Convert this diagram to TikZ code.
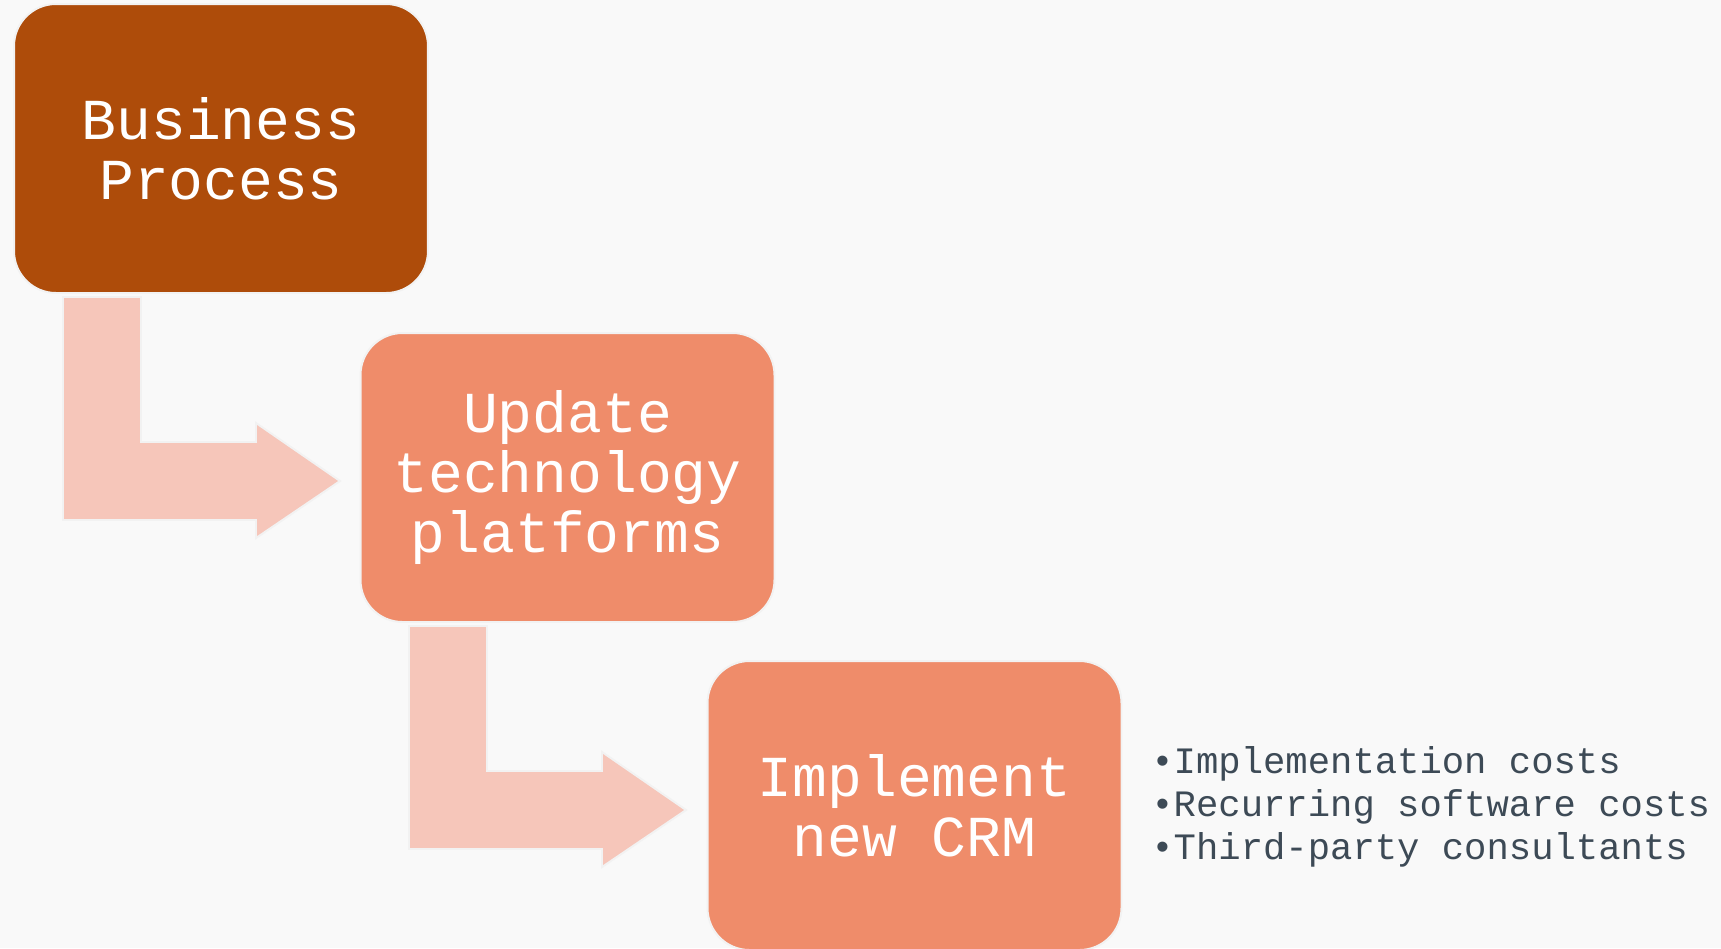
\documentclass[tikz,border=0pt]{standalone}
\usepackage{fontspec}
\setmainfont{Liberation Mono}

\definecolor{paper}{HTML}{F9F9F9}
\definecolor{rust}{HTML}{AE4C0A}
\definecolor{salmon}{HTML}{EF8C6A}
\definecolor{blush}{HTML}{F6C6BA}
\definecolor{rim}{HTML}{F2F2F2}
\definecolor{slate}{HTML}{3D4A56}

\tikzset{
  stepbox/.style={rounded corners=0.84cm, minimum width=8.28cm, minimum height=5.78cm,
    draw=rim, line width=1.1pt, text=white, align=center, inner sep=0pt,
    font=\fontsize{33}{34}\selectfont},
  % L-shaped arrow, origin at the lower left corner of the box it leaves
  bentarrow/.pic={
    \filldraw[blush, draw=rim, line width=1.1pt]
      (49,4) -- (127,4) -- (127,149) -- (242,149) -- (242,130) -- (326,188)
      -- (242,245) -- (242,227) -- (49,227) -- cycle;
  }
}

\begin{document}
\begin{tikzpicture}[x=0.02cm, y=-0.02cm]
  % Background
  \fill[paper] (0,0) rectangle (1721,948);
  \useasboundingbox (0,0) rectangle (1721,948);

  % Arrows
  \path (14,293) pic {bentarrow};
  \path (360,622) pic {bentarrow};

  % Steps
  \node[stepbox, fill=rust]   (process) at (221,148.5) {Business\\Process};
  \node[stepbox, fill=salmon] (update)  at (567.5,477.5) {Update\\technology\\platforms};
  \node[stepbox, fill=salmon] (crm)     at (914.5,805.5) {Implement\\new CRM};

  % Costs
  \node[anchor=west, align=left, inner sep=0pt, text=slate,
        font=\fontsize{21.2}{24.6}\selectfont] (costs) at (1151,807)
    {\textbullet Implementation costs\\
     \textbullet Recurring software costs\\
     \textbullet Third-party consultants};
\end{tikzpicture}
\end{document}
